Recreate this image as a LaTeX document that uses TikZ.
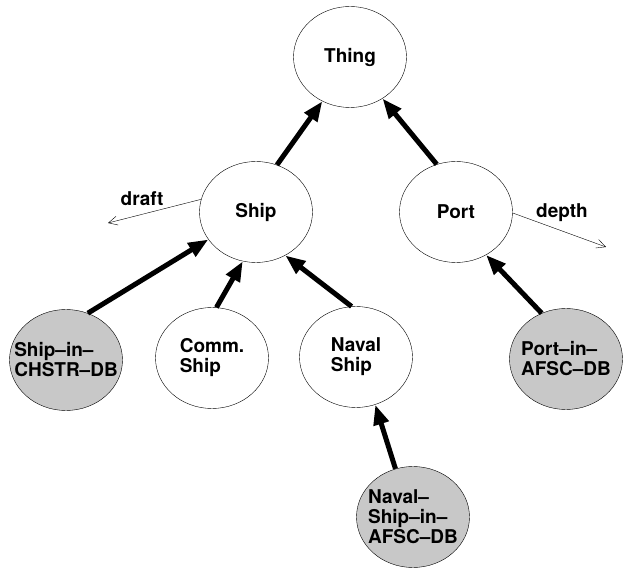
\documentclass[tikz,border=0pt]{standalone}
\usepackage{fontspec}
\setmainfont{TeX Gyre Heros}
\usepackage{tikz}
\usetikzlibrary{arrows.meta, shapes.geometric}
\usepackage{xcolor}
\definecolor{DbGray}{HTML}{C8C8C8}
\tikzset{
  concept/.style={draw=black, thin, ellipse, minimum width=113pt, minimum height=101pt,
    inner xsep=-20pt, inner ysep=0pt, align=left, font=\fontsize{19}{20}\selectfont\bfseries},
  dbconcept/.style={concept, fill=DbGray},
  isa/.style={-{Triangle[length=20pt, width=15pt]}, line width=5pt, draw=black},
  attr/.style={-{Straight Barb[length=9pt, width=9pt]}, thin, draw=black},
  attrlabel/.style={font=\fontsize{19}{20}\selectfont\bfseries},
}

\begin{document}
\begin{tikzpicture}[x=1pt, y=1pt]
    \useasboundingbox (0,0) rectangle (623,573);
    \node[concept] (thing) at (350,516) {Thing};
    \node[concept] (ship) at (256,361) {Ship};
    \node[concept] (port) at (456,361) {Port};
    \node[dbconcept] (chstr) at (66,213) {Ship--in--\\CHSTR--DB};
    \node[concept] (comm) at (212,215) {Comm.\\Ship};
    \node[concept] (naval) at (356,216) {Naval\\Ship};
    \node[dbconcept] (portdb) at (566,214) {Port--in--\\AFSC--DB};
    \node[dbconcept] (navaldb) at (413,56) {Naval--\\Ship--in--\\AFSC--DB};
    % attributes
    \coordinate (draftend) at (108,350);
    \coordinate (depthend) at (606,326);
    \draw[attr] (ship.167) -- (draftend);
    \draw[attr] (port.-1) -- (depthend);
    \node[attrlabel] (draft) at (142,374) {draft};
    \node[attrlabel] (depth) at (562,360) {depth};
    % is-a links
    \draw[isa] (ship.66) -- (thing.238);
    \draw[isa] (port.112) -- (thing.308);
    \draw[isa] (chstr.65) -- (ship.210);
    \draw[isa] (comm.85) -- (ship.255);
    \draw[isa] (naval.95) -- (ship.304);
    \draw[isa] (portdb.118) -- (port.305);
    \draw[isa] (navaldb.110) -- (naval.292);
\end{tikzpicture}
\end{document}
